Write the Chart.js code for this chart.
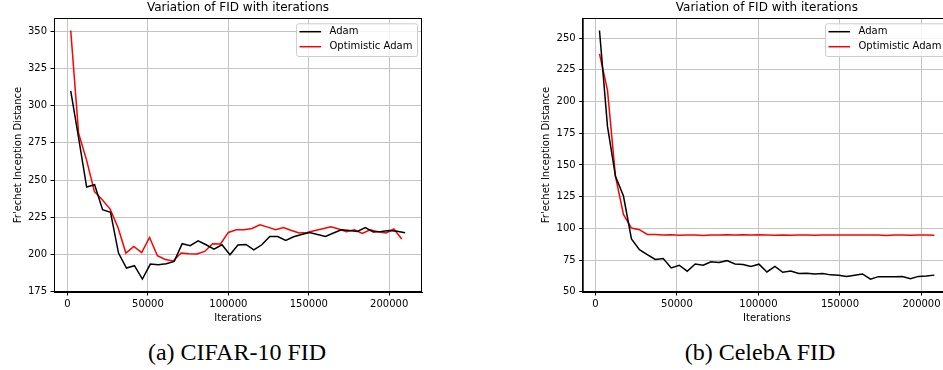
<!DOCTYPE html>
<html>
<head>
<meta charset="utf-8">
<script src="https://cdn.jsdelivr.net/npm/chart.js@4.4.0/dist/chart.umd.min.js"></script>
<style>
    html, body { margin: 0; padding: 0; background: #fff; }
    body { width: 943px; height: 370px; position: relative; overflow: hidden; }
    .panel { position: absolute; top: 0; height: 330px; }
    #cifar-panel { left: 0; width: 470px; }
    #celeba-panel { left: 470px; width: 500px; }
    .caption {
        position: absolute; top: 339px; line-height: 26px;
        font-family: "Liberation Serif", "Times New Roman", serif; font-size: 24px;
        transform: translateX(-50%) scaleX(1); white-space: nowrap; color: #000;
    }
</style>
</head>
<body>
<div class="panel" id="cifar-panel"><canvas id="cifar-chart" width="470" height="330"></canvas></div>
<div class="panel" id="celeba-panel"><canvas id="celeba-chart" width="500" height="330"></canvas></div>
<div class="caption" style="left:237px">(a) CIFAR-10 FID</div>
<div class="caption" style="left:760px">(b) CelebA FID</div>

<script>
// --- data ---
const cifarItersAdam = [2000, 6950, 11900, 16850, 21800, 26750, 31700, 36650, 41600, 46550, 51500, 56450, 61400, 66350, 71300,
    76250, 81200, 86150, 91100, 96050, 101000, 105950, 110900, 115850, 120800, 125750, 130700, 135650, 140600, 145550,
    150500, 155450, 160400, 165350, 170300, 175250, 180200, 185150, 190100, 195050, 200000, 204950, 209900];
const cifarAdam = [310, 278, 245.3, 246.8, 230, 228.2, 200.8, 190.7, 192.3, 183.3, 193.4, 193, 193.6, 195.2, 207.1,
    205.8, 209.1, 206.4, 203.5, 206.4, 199.7, 206.2, 206.6, 203, 206.4, 212, 212, 209.3, 211.8, 213.3,
    214.7, 213.3, 212, 214.3, 216.5, 216, 215.4, 218, 215, 215.3, 216, 215.5, 214.5];

const cifarItersOpt = [2000, 6900, 11800, 16700, 21600, 26500, 31400, 36300, 41200, 46100, 51000, 55900, 60800, 65700, 70600,
    75500, 80400, 85300, 90200, 95100, 100000, 104900, 109800, 114700, 119600, 124500, 129400, 134300, 139200, 144100,
    149000, 153900, 158800, 163700, 168600, 173500, 178400, 183300, 188200, 193100, 198000, 202900, 207800];
const cifarOpt = [350.7, 281.5, 263.6, 242.3, 236.7, 230.4, 218, 200.8, 205.3, 201.2, 211.3, 199, 196.5, 195.5, 200.8,
    200.4, 200.2, 201.9, 207.1, 207, 214.7, 216.5, 216.5, 217.4, 219.9, 218.3, 216.5, 218, 216, 214.3,
    214.7, 216, 217.2, 218.5, 217, 215.2, 216.5, 214, 216.5, 215.2, 214.3, 217, 210.3];

const celebaIters = [2500, 7400, 12300, 17200, 22100, 27000, 31800, 36700, 41600, 46500, 51400, 56300, 61200, 66100, 70900,
    75800, 80700, 85600, 90500, 95400, 100300, 105200, 110100, 114900, 119800, 124700, 129600, 134500, 139400, 144300,
    149200, 154100, 159000, 163800, 168700, 173600, 178500, 183400, 188300, 193200, 198100, 203000, 207900];
const celebaAdam = [256, 180.4, 141, 125.5, 91.7, 83.3, 79.4, 75.5, 76.2, 68.9, 71, 66.3, 72, 71, 73.7,
    73.2, 74.6, 72, 71.5, 70.1, 71.8, 65.7, 70.1, 65.4, 66.5, 64.5, 64.7, 64, 64.4, 63.4,
    63.1, 62.2, 63.1, 64.1, 60, 62, 62, 62, 62.1, 60.4, 62.2, 62.5, 63.2];
const celebaOpt = [237.5, 209, 141, 111, 100.3, 99, 95.2, 95.2, 94.8, 95, 94.6, 94.8, 94.8, 94.5, 94.8,
    94.8, 95, 94.8, 95, 94.8, 95, 94.9, 94.7, 94.9, 94.6, 94.8, 94.9, 94.7, 94.9, 94.8,
    94.9, 94.9, 94.9, 94.9, 94.9, 94.9, 94.5, 94.8, 94.8, 94.6, 94.8, 94.8, 94.7];

const xTickValues = [0, 50000, 100000, 150000, 200000];
const cifarYTicks = [175, 200, 225, 250, 275, 300, 325, 350];
const celebaYTicks = [50, 75, 100, 125, 150, 175, 200, 225, 250];

const seriesNames = ['Adam', 'Optimistic Adam'];
const chartTitle = 'Variation of FID with iterations';
const xTitle = 'Iterations';
const yTitle = "Fr'echet Inception Distance";

const FONT = '"DejaVu Sans", Verdana, sans-serif';
Chart.defaults.color = '#000';
Chart.defaults.font.family = FONT;

function toPoints(xs, ys) {
    return ys.map((y, i) => ({ x: xs[i], y: y }));
}

// full black box round the plot + matplotlib-like legend in the upper right
const frameAndLegend = {
    id: 'frameAndLegend',
    afterDatasetsDraw(chart) {
        const { ctx, chartArea: a } = chart;
        ctx.save();
        ctx.strokeStyle = '#000';
        ctx.lineWidth = 1;
        ctx.strokeRect(a.left + 0.5, a.top + 0.5, a.right - a.left - 1, a.bottom - a.top - 1);

        ctx.font = '10px ' + FONT;
        const sets = chart.data.datasets;
        const textW = Math.max(...sets.map(d => ctx.measureText(d.label).width));
        const w = 33.4 + textW + 4.6, h = 32.7;
        const x = a.right - 5 - w, y = a.top + 5.3;
        ctx.beginPath();
        ctx.roundRect(x + 0.5, y + 0.5, w, h, 2);
        ctx.fillStyle = 'rgba(255,255,255,0.8)';
        ctx.fill();
        ctx.strokeStyle = '#cccccc';
        ctx.stroke();

        sets.forEach((d, i) => {
            const ly = y + 8.4 + i * 15;
            ctx.beginPath();
            ctx.moveTo(x + 3.4, ly);
            ctx.lineTo(x + 25, ly);
            ctx.strokeStyle = d.borderColor;
            ctx.lineWidth = 1.5;
            ctx.stroke();
            ctx.fillStyle = '#000';
            ctx.textBaseline = 'middle';
            ctx.fillText(d.label, x + 33.4, ly);
        });
        ctx.restore();
    }
};

function makeChart(canvasId, cfg) {
    const gridOpts = {
        color: '#c4c4c4',
        lineWidth: 1,
        drawTicks: true,
        tickLength: 3.5,
        tickColor: '#000',
        tickWidth: 1
    };
    return new Chart(document.getElementById(canvasId), {
        type: 'line',
        data: {
            datasets: [
                { label: seriesNames[0], data: cfg.adam, borderColor: '#000000', borderWidth: 1.5, pointRadius: 0, tension: 0, fill: false },
                { label: seriesNames[1], data: cfg.opt, borderColor: '#ff0000', borderWidth: 1.5, pointRadius: 0, tension: 0, fill: false }
            ]
        },
        options: {
            responsive: false,
            animation: false,
            layout: { padding: { left: cfg.padLeft, right: cfg.padRight, top: 0, bottom: 0 } },
            plugins: {
                legend: { display: false },
                tooltip: { enabled: false },
                title: {
                    display: true,
                    text: chartTitle,
                    fullSize: false,
                    color: '#000',
                    font: { size: 12, weight: 'normal', family: FONT },
                    padding: { top: 1, bottom: 2.6 }
                }
            },
            scales: {
                x: {
                    type: 'linear',
                    min: cfg.xMin,
                    max: cfg.xMax,
                    afterBuildTicks: (scale) => { scale.ticks = xTickValues.map(v => ({ value: v })); },
                    afterFit: (scale) => { scale.height = 38; },
                    ticks: { font: { size: 10 }, padding: 3, maxRotation: 0, autoSkip: false, callback: v => String(v) },
                    grid: gridOpts,
                    border: { display: true, color: '#000', width: 1 },
                    title: { display: true, text: xTitle, font: { size: 10 }, padding: { top: 0, bottom: 6 } }
                },
                y: {
                    type: 'linear',
                    min: cfg.yMin,
                    max: cfg.yMax,
                    afterBuildTicks: (scale) => { scale.ticks = cfg.yTicks.map(v => ({ value: v })); },
                    afterFit: (scale) => { scale.width = 54; },
                    ticks: { font: { size: 10 }, padding: 3.5, autoSkip: false, callback: v => String(v) },
                    grid: gridOpts,
                    border: { display: true, color: '#000', width: 1 },
                    title: { display: true, text: yTitle, font: { size: 10 }, padding: { top: 12, bottom: 0 } }
                }
            }
        },
        plugins: [frameAndLegend]
    });
}

makeChart('cifar-chart', {
    adam: toPoints(cifarItersAdam, cifarAdam),
    opt: toPoints(cifarItersOpt, cifarOpt),
    xMin: -8400, xMax: 220400,
    yMin: 174.6, yMax: 359.1,
    yTicks: cifarYTicks,
    padLeft: 0, padRight: 48
});

makeChart('celeba-chart', {
    adam: toPoints(celebaIters, celebaAdam),
    opt: toPoints(celebaIters, celebaOpt),
    xMin: -7800, xMax: 218100,
    yMin: 49.9, yMax: 265.8,
    yTicks: celebaYTicks,
    padLeft: 58.7, padRight: 19
});
</script>
</body>
</html>
